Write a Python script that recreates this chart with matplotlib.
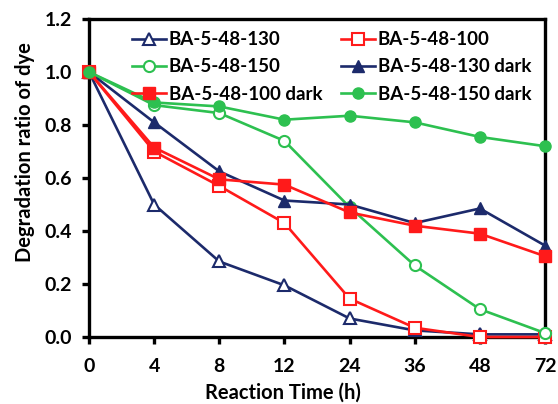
import matplotlib
matplotlib.use("Agg")
import matplotlib.pyplot as plt

plt.rcParams['font.family'] = ['Lato', 'DejaVu Sans']
plt.rcParams['font.weight'] = 'bold'

times = ["0", "4", "8", "12", "24", "36", "48", "72"]
s130 = [1.0, 0.50, 0.285, 0.195, 0.07, 0.025, 0.01, 0.01]
s100 = [1.0, 0.70, 0.57, 0.43, 0.145, 0.035, 0.0, 0.0]
s150 = [1.0, 0.875, 0.845, 0.74, 0.49, 0.27, 0.105, 0.015]
s130d = [1.0, 0.81, 0.625, 0.515, 0.50, 0.43, 0.485, 0.345]
s100d = [1.0, 0.715, 0.595, 0.575, 0.47, 0.42, 0.39, 0.305]
s150d = [1.0, 0.885, 0.87, 0.82, 0.835, 0.81, 0.755, 0.72]

navy = '#1C2A6B'
red = '#FF1A1A'
green = '#2DC050'

fig = plt.figure(figsize=(5.58, 4.04), dpi=100)
ax = fig.add_axes([0.1595, 0.1658, 0.8172, 0.7872])
x = list(range(len(times)))
lw = 1.9
h130, = ax.plot(x, s130, color=navy, lw=lw, marker='^', ms=8, mfc='white', mec=navy, mew=1.5, label='BA-5-48-130', zorder=3, clip_on=False)
h100, = ax.plot(x, s100, color=red, lw=lw, marker='s', ms=8, mfc='white', mec=red, mew=1.5, label='BA-5-48-100', zorder=3, clip_on=False)
h150, = ax.plot(x, s150, color=green, lw=lw, marker='o', ms=8, mfc='white', mec=green, mew=1.5, label='BA-5-48-150', zorder=3, clip_on=False)
h130d, = ax.plot(x, s130d, color=navy, lw=lw, marker='^', ms=8, label='BA-5-48-130 dark', zorder=3, clip_on=False)
h100d, = ax.plot(x, s100d, color=red, lw=lw, marker='s', ms=8, label='BA-5-48-100 dark', zorder=3, clip_on=False)
h150d, = ax.plot(x, s150d, color=green, lw=lw, marker='o', ms=8, label='BA-5-48-150 dark', zorder=3, clip_on=False)

ax.set_xlim(0, 7)
ax.set_ylim(0, 1.2)
ax.set_xticks(x)
ax.set_xticklabels(times)
ax.set_yticks([0, 0.2, 0.4, 0.6, 0.8, 1.0, 1.2])
ax.set_yticklabels(['0.0', '0.2', '0.4', '0.6', '0.8', '1.0', '1.2'])
for s in ax.spines.values():
    s.set_linewidth(2.4)
ax.tick_params(axis='both', direction='out', width=2.4, length=5, labelsize=14)
ax.tick_params(axis='y', pad=7)
ax.tick_params(axis='x', pad=10)
ax.set_xlabel('Reaction Time (h)', fontsize=14.5, fontweight='bold')
ax.xaxis.set_label_coords(0.425, -0.145)
ax.set_ylabel('Degradation ratio of dye', fontsize=14.5, fontweight='bold')
ax.yaxis.set_label_coords(-0.118, 0.58)
for lab in ax.get_xticklabels() + ax.get_yticklabels():
    lab.set_fontweight('bold')

handles = [h130, h150, h100d, h100, h130d, h150d]
labels = [h.get_label() for h in handles]
leg = ax.legend(handles, labels, ncol=2, loc='upper left', bbox_to_anchor=(0.095, 0.962),
                frameon=False, fontsize=13.5, handlelength=1.8, columnspacing=1.0,
                handletextpad=0.15, labelspacing=0.55, borderpad=0, borderaxespad=0)
for t in leg.get_texts():
    t.set_fontweight('bold')

fig.savefig('out.png', dpi=100)
